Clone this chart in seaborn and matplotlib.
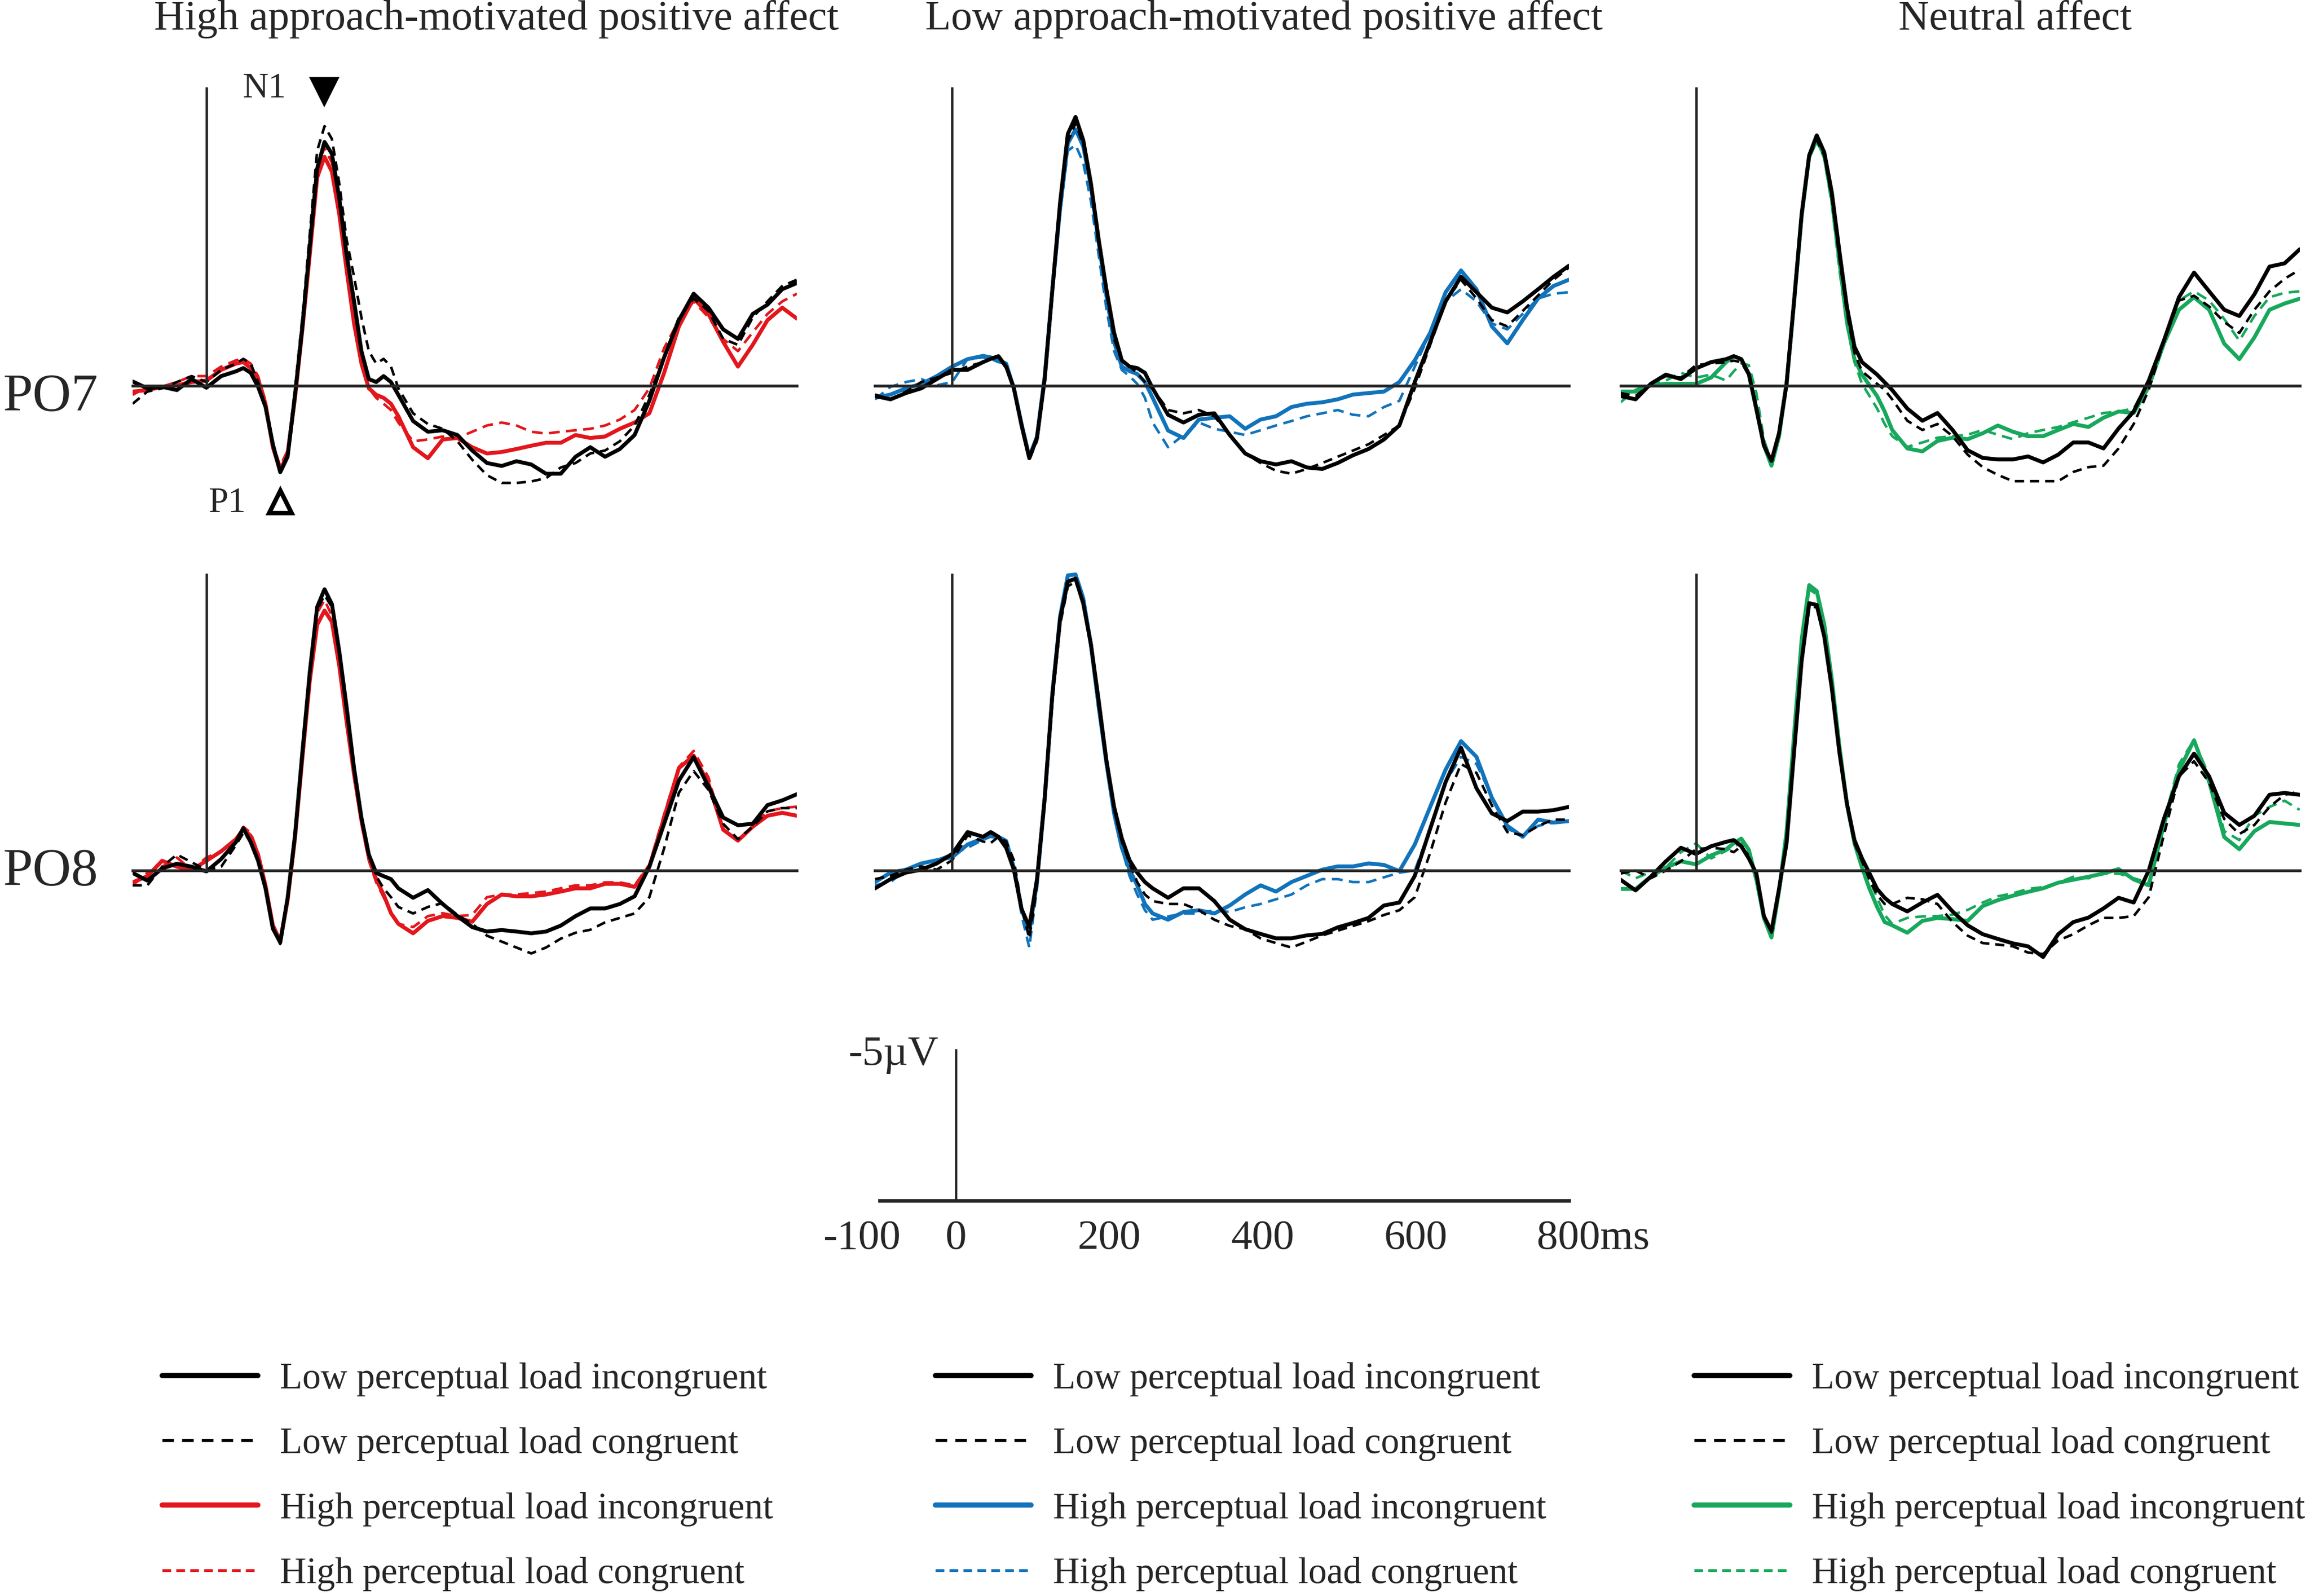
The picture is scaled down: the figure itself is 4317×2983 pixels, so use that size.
import numpy as np
import pandas as pd
import matplotlib
matplotlib.use("Agg")
import matplotlib.pyplot as plt
import seaborn as sns
from matplotlib.lines import Line2D

# sample times (ms), shared by every waveform
times = [-100, -80, -60, -40, -20, 0, 20, 40,
         50, 60, 70, 80, 90, 100, 110, 120, 130, 140, 150, 160, 170,
         180, 190, 200, 210, 220, 230, 240, 250, 260,
         280, 300, 320, 340, 360, 380, 400, 420, 440, 460, 480, 500,
         520, 540, 560, 580, 600, 620, 640, 660, 680, 700, 720, 740,
         760, 780, 800]

# --- High approach-motivated positive affect (uV) ---
ha_po7_li = [-0.15, 0.08, 0.03, 0.14, -0.23, 0.06, -0.33, -0.49,
             -0.6, -0.44, 0.03, 0.7, 1.96, 2.9, 2.38, 0.3, -2.0, -4.7, -7.3, -8.2, -7.8,
             -6.3, -4.4, -2.84, -1.17, -0.23, -0.13, -0.33, -0.13, 0.3,
             1.18, 1.54, 1.49, 1.65, 2.17, 2.59, 2.69, 2.53, 2.64, 2.95, 2.95, 2.38,
             2.06, 2.38, 2.12, 1.65, 0.5, -0.96, -2.21, -3.1, -2.63, -1.9, -1.58, -2.42,
             -2.73, -3.25, -3.46]
ha_po7_lc = [0.6, 0.19, 0.08, -0.13, -0.33, -0.13, -0.54, -0.75,
             -0.91, -0.75, -0.13, 0.7, 2.06, 2.9, 2.27, 0.1, -2.3, -5.1, -7.9, -8.73, -8.3,
             -6.8, -4.9, -3.67, -2.3, -1.17, -0.75, -0.91, -0.65, 0.08,
             0.92, 1.28, 1.44, 1.86, 2.48, 3.0, 3.26, 3.26, 3.21, 3.1, 2.74, 2.59,
             2.27, 2.17, 1.86, 1.33, 0.3, -0.96, -2.3, -2.94, -2.52, -1.58, -1.38, -2.3,
             -2.84, -3.36, -3.57]
ha_po7_hi = [0.19, 0.14, 0.03, -0.02, -0.13, -0.18, -0.54, -0.75,
             -0.8, -0.6, -0.23, 0.6, 2.06, 2.85, 2.27, 0.4, -1.9, -4.4, -7.0, -7.7, -7.2,
             -5.76, -3.88, -2.1, -0.75, 0.08, 0.3, 0.4, 0.6, 1.02,
             2.06, 2.43, 1.8, 1.75, 2.06, 2.27, 2.22, 2.12, 2.01, 1.91, 1.91, 1.65,
             1.75, 1.7, 1.44, 1.23, 0.92, -0.44, -2.0, -2.94, -2.42, -1.48, -0.65, -1.38,
             -2.21, -2.63, -2.26]
ha_po7_hc = [0.3, 0.03, 0.02, -0.13, -0.33, -0.33, -0.65, -0.86,
             -0.91, -0.75, -0.33, 0.5, 1.96, 2.69, 2.17, 0.3, -2.1, -4.7, -7.4, -8.0, -7.5,
             -5.96, -4.09, -2.3, -0.86, 0.08, 0.4, 0.6, 0.81, 1.23,
             1.86, 1.8, 1.7, 1.75, 1.54, 1.33, 1.23, 1.33, 1.54, 1.6, 1.54, 1.49,
             1.44, 1.33, 1.13, 0.81, 0.08, -1.27, -2.21, -2.84, -2.31, -1.58, -1.17, -1.8,
             -2.42, -2.84, -3.1]
ha_po8_li = [0.08, 0.34, -0.07, -0.23, -0.13, 0.03, -0.39, -0.96,
             -1.43, -0.96, -0.33, 0.6, 1.96, 2.43, 0.92, -1.2, -4.0, -6.7, -8.9, -9.5, -9.0,
             -7.4, -5.5, -3.46, -1.79, -0.54, 0.08, 0.19, 0.29, 0.6,
             0.92, 0.66, 1.13, 1.54, 1.91, 2.06, 2.01, 2.06, 2.12, 2.06, 1.86, 1.54,
             1.28, 1.28, 1.13, 0.87, -0.13, -1.58, -3.04, -3.83, -2.84, -1.79, -1.53, -1.58,
             -2.21, -2.37, -2.58]
ha_po8_lc = [0.5, 0.5, -0.13, -0.54, -0.28, -0.02, -0.13, -0.86,
             -1.27, -1.0, -0.4, 0.55, 1.9, 2.48, 1.0, -1.1, -3.9, -6.6, -8.8, -9.3, -8.9,
             -7.3, -5.3, -3.36, -1.69, -0.54, 0.19, 0.6, 0.9, 1.23,
             1.45, 1.23, 1.1, 1.5, 1.8, 2.2, 2.4, 2.6, 2.8, 2.6, 2.3, 2.1,
             2.0, 1.75, 1.6, 1.45, 0.9, -0.75, -2.63, -3.36, -2.73, -1.58, -1.06, -1.48,
             -2.0, -2.11, -2.11]
ha_po8_hi = [0.4, 0.19, -0.33, -0.13, -0.02, -0.33, -0.65, -1.06,
             -1.4, -1.17, -0.54, 0.5, 1.85, 2.38, 1.0, -1.1, -3.8, -6.4, -8.3, -8.78, -8.4,
             -6.9, -5.0, -3.25, -1.69, -0.44, 0.3, 0.81, 1.44, 1.8,
             2.12, 1.7, 1.54, 1.6, 1.73, 1.13, 0.81, 0.87, 0.87, 0.81, 0.71, 0.6,
             0.6, 0.45, 0.45, 0.55, -0.13, -1.79, -3.46, -3.88, -2.94, -1.38, -1.01, -1.48,
             -1.85, -1.95, -1.85]
ha_po8_hc = [0.5, 0.08, -0.13, -0.44, -0.02, -0.44, -0.65, -1.06,
             -1.48, -1.27, -0.6, 0.45, 1.9, 2.48, 1.0, -1.2, -4.0, -6.8, -8.7, -9.14, -8.6,
             -7.0, -5.03, -3.15, -1.58, -0.33, 0.4, 0.9, 1.44, 1.8,
             1.91, 1.54, 1.44, 1.54, 1.5, 0.9, 0.81, 0.81, 0.76, 0.71, 0.6, 0.5,
             0.5, 0.4, 0.4, 0.5, -0.2, -1.9, -3.5, -4.04, -3.15, -1.38, -1.06, -1.48,
             -2.0, -2.11, -2.16]

# --- Low approach-motivated positive affect (uV) ---
la_po7_li = [0.34, 0.45, 0.24, 0.08, -0.23, -0.54, -0.54, -0.8,
             -0.91, -1.0, -0.65, 0.08, 1.33, 2.43, 1.75, -0.23, -3.25, -6.17, -8.47, -9.04, -8.26,
             -6.8, -4.92, -3.25, -1.79, -0.86, -0.65, -0.6, -0.44, 0.08,
             0.97, 1.23, 0.97, 0.92, 1.65, 2.27, 2.53, 2.64, 2.53, 2.74, 2.79, 2.59,
             2.33, 2.12, 1.8, 1.33, -0.13, -1.48, -2.84, -3.67, -3.15, -2.63, -2.47, -2.84,
             -3.25, -3.67, -4.04]
la_po7_lc = [0.29, 0.45, 0.19, -0.13, -0.28, -0.44, -0.65, -0.8,
             -0.91, -0.96, -0.6, 0.13, 1.4, 2.48, 1.85, -0.13, -3.1, -6.0, -8.2, -8.83, -8.1,
             -6.7, -4.82, -3.15, -1.58, -0.86, -0.65, -0.44, -0.13, 0.1,
             0.81, 0.92, 0.81, 1.02, 1.65, 2.27, 2.59, 2.85, 2.95, 2.79, 2.59, 2.38,
             2.17, 1.96, 1.65, 1.33, 0.08, -1.38, -2.84, -3.57, -2.94, -2.21, -2.0, -2.52,
             -3.04, -3.57, -3.98]
la_po7_hi = [0.4, 0.29, 0.08, -0.07, -0.33, -0.65, -0.9, -1.01,
             -0.96, -0.86, -0.75, 0.08, 1.28, 2.38, 1.7, -0.33, -3.25, -5.96, -8.15, -8.62, -8.05,
             -6.7, -4.82, -3.04, -1.48, -0.65, -0.5, -0.4, -0.13, 0.4,
             1.5, 1.75, 1.13, 1.07, 1.02, 1.44, 1.13, 1.02, 0.71, 0.6, 0.55, 0.45,
             0.29, 0.24, 0.19, -0.13, -0.86, -1.79, -3.15, -3.88, -3.25, -2.0, -1.43, -2.21,
             -2.94, -3.36, -3.57]
la_po7_hc = [0.45, 0.03, -0.13, -0.23, -0.02, -0.13, -0.91, -0.96,
             -0.91, -0.8, -0.75, 0.0, 1.2, 2.33, 1.7, -0.3, -3.2, -5.8, -7.9, -8.1, -7.5,
             -6.2, -4.4, -2.6, -1.17, -0.54, -0.33, -0.07, 0.4, 1.23,
             2.06, 1.65, 1.23, 1.44, 1.54, 1.65, 1.49, 1.33, 1.18, 1.02, 0.92, 0.81,
             0.97, 1.02, 0.71, 0.5, -0.65, -1.79, -2.84, -3.25, -2.84, -2.1, -1.9, -2.42,
             -2.94, -3.1, -3.15]
la_po8_li = [0.6, 0.29, 0.07, -0.03, -0.24, -0.56, -1.3, -1.14,
             -1.3, -1.14, -0.77, -0.03, 1.3, 1.9, 0.29, -2.46, -5.95, -8.49, -9.76, -9.86, -9.02,
             -7.64, -5.74, -3.73, -2.15, -1.09, -0.35, 0.07, 0.39, 0.6,
             0.92, 0.6, 0.6, 1.03, 1.66, 1.98, 2.14, 2.29, 2.29, 2.19, 2.14, 1.92,
             1.77, 1.6, 1.18, 1.08, 0.18, -1.41, -2.99, -4.15, -2.78, -1.93, -1.67, -1.99,
             -1.99, -2.04, -2.15]
la_po8_lc = [0.29, 0.18, -0.03, -0.14, -0.03, -0.35, -1.19, -0.98,
             -0.93, -1.14, -0.98, -0.35, 1.2, 2.3, 0.5, -2.3, -5.7, -8.3, -9.6, -9.76, -9.12,
             -7.64, -5.53, -3.63, -2.04, -0.98, -0.24, 0.39, 0.81, 1.03,
             1.13, 1.13, 1.34, 1.66, 1.87, 1.98, 2.29, 2.45, 2.6, 2.4, 2.19, 2.03,
             1.87, 1.71, 1.5, 1.34, 0.9, -0.6, -2.3, -3.6, -3.3, -2.2, -1.3, -1.19,
             -1.51, -1.72, -1.72]
la_po8_hi = [0.39, 0.07, -0.03, -0.24, -0.35, -0.45, -0.88, -1.09,
             -1.25, -1.14, -1.0, -0.1, 1.3, 2.08, 0.4, -2.4, -6.0, -8.6, -9.97, -10.0, -9.2,
             -7.6, -5.53, -3.63, -1.93, -0.77, -0.03, 0.5, 1.13, 1.45,
             1.66, 1.4, 1.34, 1.45, 1.18, 0.81, 0.5, 0.71, 0.39, 0.18, -0.03, -0.14,
             -0.14, -0.24, -0.19, 0.02, -0.88, -2.15, -3.41, -4.37, -3.84, -2.46, -1.51, -1.14,
             -1.72, -1.62, -1.67]
la_po8_hc = [0.5, 0.39, -0.03, -0.24, -0.35, -0.56, -0.77, -1.04,
             -1.14, -1.09, -0.98, -0.1, 1.5, 2.6, 0.6, -2.3, -5.8, -8.4, -9.8, -9.86, -9.12,
             -7.54, -5.42, -3.63, -2.04, -0.77, 0.18, 0.81, 1.34, 1.66,
             1.55, 1.45, 1.45, 1.34, 1.4, 1.24, 1.13, 0.97, 0.81, 0.5, 0.29, 0.29,
             0.39, 0.39, 0.23, 0.07, 0.0, -1.4, -3.0, -3.84, -3.6, -2.5, -1.41, -1.19,
             -1.51, -1.62, -1.67]

# --- Neutral affect (uV) ---
n_po7_li = [0.34, 0.45, -0.07, -0.38, -0.23, -0.59, -0.8, -0.9,
            -1.0, -0.9, -0.4, 0.76, 2.0, 2.52, 1.59, -0.07, -2.87, -5.78, -7.75, -8.42, -7.85,
            -6.5, -4.53, -2.66, -1.32, -0.8, -0.59, -0.38, -0.12, 0.14,
            0.76, 1.17, 0.91, 1.48, 2.16, 2.42, 2.47, 2.47, 2.37, 2.57, 2.31, 1.9,
            1.9, 2.1, 1.43, 0.86, -0.18, -1.52, -2.98, -3.81, -3.18, -2.56, -2.35, -3.08,
            -4.01, -4.12, -4.59]
n_po7_lc = [0.24, 0.34, -0.07, -0.33, -0.28, -0.7, -0.75, -0.8,
            -0.85, -0.8, -0.35, 0.8, 2.0, 2.52, 1.6, -0.07, -2.8, -5.7, -7.7, -8.27, -7.75,
            -6.3, -4.3, -2.46, -1.11, -0.49, -0.28, -0.07, 0.13, 0.45,
            1.17, 1.48, 1.28, 1.69, 2.31, 2.73, 2.99, 3.2, 3.2, 3.2, 3.2, 2.89,
            2.73, 2.68, 2.1, 1.28, 0.13, -1.5, -2.87, -3.03, -2.67, -2.15, -1.78, -2.56,
            -3.18, -3.6, -3.91]
n_po7_hi = [0.19, 0.19, -0.02, -0.07, -0.07, -0.07, -0.28, -0.8,
            -1.0, -0.9, -0.4, 0.8, 2.0, 2.68, 1.7, -0.07, -2.8, -5.7, -7.7, -8.27, -7.75,
            -6.3, -4.2, -2.15, -0.9, -0.38, -0.02, 0.34, 0.86, 1.48,
            2.1, 2.2, 1.85, 1.74, 1.79, 1.59, 1.33, 1.54, 1.69, 1.69, 1.48, 1.28,
            1.38, 1.07, 0.86, 0.91, 0.03, -1.42, -2.56, -2.98, -2.56, -1.42, -0.9, -1.63,
            -2.56, -2.77, -2.93]
n_po7_hc = [0.55, 0.13, -0.07, -0.18, -0.44, -0.28, -0.38, -0.18,
            -0.49, -0.75, -0.7, 0.24, 1.79, 2.57, 1.7, -0.07, -2.8, -5.7, -7.7, -8.22, -7.65,
            -6.09, -3.91, -2.04, -0.8, -0.07, 0.34, 0.76, 1.28, 1.69,
            2.05, 1.9, 1.74, 1.69, 1.64, 1.48, 1.64, 1.79, 1.59, 1.48, 1.38, 1.22,
            1.07, 0.91, 0.86, 0.76, -0.18, -1.52, -2.87, -3.18, -2.87, -2.25, -1.52, -2.35,
            -2.98, -3.13, -3.18]
n_po8_li = [0.31, 0.67, 0.21, -0.31, -0.77, -0.56, -0.82, -0.97,
            -1.03, -0.82, -0.41, 0.1, 1.54, 2.05, 0.62, -0.92, -4.0, -7.08, -9.03, -8.97, -7.9,
            -6.15, -4.0, -2.26, -1.03, -0.41, 0.1, 0.62, 0.92, 1.13,
            1.38, 1.08, 0.82, 1.38, 1.85, 2.15, 2.31, 2.46, 2.56, 2.92, 2.15, 1.74,
            1.59, 1.28, 0.92, 1.08, 0.0, -1.74, -3.18, -3.95, -3.18, -1.95, -1.54, -1.85,
            -2.56, -2.62, -2.56]
n_po8_lc = [0.1, 0.0, 0.26, 0.0, -0.31, -0.72, -0.77, -0.72,
            -0.62, -0.82, -0.5, 0.2, 1.5, 2.1, 0.7, -0.9, -3.9, -7.0, -8.9, -8.9, -7.9,
            -6.1, -4.0, -2.15, -0.92, -0.31, 0.31, 0.82, 1.13, 1.13,
            0.92, 0.97, 1.13, 1.74, 2.2, 2.45, 2.5, 2.56, 2.77, 2.82, 2.36, 2.15,
            1.85, 1.6, 1.6, 1.54, 0.9, -1.2, -3.18, -3.69, -2.97, -1.74, -1.23, -1.54,
            -2.15, -2.56, -2.67]
n_po8_hi = [0.62, 0.62, 0.21, -0.1, -0.31, -0.21, -0.51, -0.72,
            -0.92, -1.08, -0.7, 0.3, 1.6, 2.26, 0.7, -1.3, -4.6, -7.8, -9.64, -9.44, -8.31,
            -6.46, -4.21, -2.26, -0.92, -0.1, 0.62, 1.23, 1.74, 1.85,
            2.1, 1.7, 1.6, 1.64, 1.7, 1.2, 1.0, 0.85, 0.72, 0.6, 0.41, 0.31,
            0.21, 0.1, -0.05, 0.3, 0.5, -1.54, -3.38, -4.4, -3.0, -1.13, -0.72, -1.33,
            -1.64, -1.59, -1.54]
n_po8_hc = [0.0, 0.26, 0.05, -0.1, -0.62, -0.92, -0.41, -0.67,
            -0.82, -0.92, -0.6, 0.4, 1.6, 2.15, 0.6, -1.3, -4.5, -7.7, -9.5, -9.33, -8.21,
            -6.36, -4.1, -2.26, -1.03, -0.31, 0.31, 0.92, 1.5, 1.8,
            1.6, 1.55, 1.54, 1.49, 1.33, 1.08, 0.87, 0.77, 0.62, 0.56, 0.41, 0.21,
            0.26, 0.1, 0.1, 0.26, 0.41, -1.64, -3.59, -4.41, -3.18, -1.33, -1.03, -1.85,
            -2.15, -2.36, -2.05]

conditions = ["Low perceptual load incongruent", "Low perceptual load congruent",
              "High perceptual load incongruent", "High perceptual load congruent"]
column_titles = ["High approach-motivated positive affect",
                 "Low approach-motivated positive affect",
                 "Neutral affect"]
column_colors = ["#E3161C", "#1173BB", "#17A85C"]
electrodes = ["PO7", "PO8"]

waves = {
    (0, 0): [ha_po7_li, ha_po7_lc, ha_po7_hi, ha_po7_hc],
    (0, 1): [la_po7_li, la_po7_lc, la_po7_hi, la_po7_hc],
    (0, 2): [n_po7_li, n_po7_lc, n_po7_hi, n_po7_hc],
    (1, 0): [ha_po8_li, ha_po8_lc, ha_po8_hi, ha_po8_hc],
    (1, 1): [la_po8_li, la_po8_lc, la_po8_hi, la_po8_hc],
    (1, 2): [n_po8_li, n_po8_lc, n_po8_hi, n_po8_hc],
}

sns.set_style("white")
plt.rcParams["font.family"] = ["Liberation Serif", "DejaVu Serif"]
plt.rcParams["axes.linewidth"] = 1.1

fig = plt.figure(figsize=(4317 / 300, 2983 / 300), dpi=300)

# layout measured on a 1568 x 1083.5 grid of the reference
REF_W, REF_H = 1568.0, 1083.5
col_x = [(90, 541), (594, 1065), (1100, 1561)]   # x of -100 ms and 800 ms
row_y = [(60, 262), (390, 591)]                   # y of -10 uV and 0 uV


def frac_rect(x0, x1, y_top, y_bot):
    return [x0 / REF_W, 1 - y_bot / REF_H, (x1 - x0) / REF_W, (y_bot - y_top) / REF_H]


draw_order = [conditions[3], conditions[2], conditions[1], conditions[0]]
dash_map = {conditions[0]: "", conditions[1]: (3.6, 2.3),
            conditions[2]: "", conditions[3]: (4.2, 2.5)}
width_map = {conditions[0]: 1.75, conditions[1]: 1.15,
             conditions[2]: 1.75, conditions[3]: 1.15}

axes = {}
for (r, c), series in waves.items():
    top, zero = row_y[r]
    ppu = (zero - top) / 10.0
    ax = fig.add_axes(frac_rect(col_x[c][0], col_x[c][1], top - 0.5 * ppu, zero + 4.5 * ppu))
    ax.patch.set_alpha(0)

    df = pd.DataFrame({
        "time": times * len(series),
        "uv": [v for s in series for v in s],
        "cond": np.repeat(conditions, len(times)),
    })
    pal = {conditions[0]: "black", conditions[1]: "black",
           conditions[2]: column_colors[c], conditions[3]: column_colors[c]}
    sns.lineplot(data=df, x="time", y="uv", hue="cond", style="cond", size="cond",
                 hue_order=draw_order, style_order=draw_order, size_order=draw_order,
                 palette=pal, dashes=dash_map, sizes=width_map,
                 estimator=None, errorbar=None, sort=False, legend=False, ax=ax)

    ax.set_xlim(-100, 800)
    ax.set_ylim(4.5, -10.5)
    ax.set_xlabel("")
    ax.set_ylabel("")
    for s in ["top", "right"]:
        ax.spines[s].set_visible(False)
    ax.spines["left"].set_position(("data", 0))
    ax.spines["left"].set_bounds(-10, 0)
    ax.spines["bottom"].set_position(("data", 0))
    ax.spines["bottom"].set_bounds(-100, 800)
    ax.spines["bottom"].set_linewidth(1.3)
    ax.set_xticks([0, 200, 400, 600, 800])
    ax.set_xticklabels([])
    ax.set_yticks([-10, -5])
    ax.set_yticklabels([])
    ax.tick_params(direction="out", length=4.5, width=1.1, color="black")
    axes[(r, c)] = ax

# N1 / P1 markers
ax0 = axes[(0, 0)]
ax0.plot(160, -9.9, marker="v", ms=12, color="black", clip_on=False)
ax0.text(78, -10.0, "N1", fontsize=16, ha="center", va="center")
ax0.plot(100, 3.9, marker="^", ms=10, mfc="white", mec="black", mew=2.0, clip_on=False)
ax0.text(28, 3.95, "P1", fontsize=16, ha="center", va="center")

# column titles and electrode labels
title_x = [337, 858, 1368]
for c, t in enumerate(column_titles):
    fig.text(title_x[c] / REF_W, 1 - 13 / REF_H, t, fontsize=19, ha="center", va="center")
for r, (name, yc) in enumerate(zip(electrodes, [270, 592])):
    fig.text(2 / REF_W, 1 - yc / REF_H, name, fontsize=24, ha="left", va="center")

# scale bar axes
sc_ppu = (815 - 713) / 5.0
sax = fig.add_axes(frac_rect(597, 1065, 713 - 0.6 * sc_ppu, 815 + 0.8 * sc_ppu))
sax.patch.set_alpha(0)
sax.set_xlim(-100, 800)
sax.set_ylim(0.8, -5.6)
for s in ["top", "right"]:
    sax.spines[s].set_visible(False)
sax.spines["left"].set_position(("data", 0))
sax.spines["left"].set_bounds(-5, 0)
sax.spines["left"].set_linewidth(1.0)
sax.spines["bottom"].set_position(("data", 0))
sax.spines["bottom"].set_bounds(-100, 800)
sax.spines["bottom"].set_linewidth(1.6)
sax.set_xticks([0, 200, 400, 600, 800])
sax.set_xticklabels(["0", "200", "400", "600", ""])
sax.set_xticks([-100], minor=True)
sax.set_xticklabels([""], minor=True)
sax.set_yticks([-5])
sax.set_yticklabels(["-5\u00b5V"])
sax.tick_params(axis="x", which="major", direction="out", length=5.5, width=1.1,
                labelsize=19, pad=3)
sax.tick_params(axis="x", which="minor", direction="inout", length=9, width=1.1)
sax.tick_params(axis="y", direction="out", length=4, width=1.1, labelsize=19, pad=4)
sax.annotate("-100", xy=(-100, 0), xycoords="data", xytext=(-8, -8.5),
             textcoords="offset points", ha="center", va="top", fontsize=19)
sax.annotate("800ms", xy=(800, 0), xycoords="data", xytext=(-14.5, -8.5),
             textcoords="offset points", ha="left", va="top", fontsize=19)

# legends
legend_x = [110, 635, 1150]
for c in range(3):
    handles = [
        Line2D([0], [0], color="black", lw=2.3),
        Line2D([0], [0], color="black", lw=1.3, dashes=(4, 2.8)),
        Line2D([0], [0], color=column_colors[c], lw=2.3),
        Line2D([0], [0], color=column_colors[c], lw=1.3, dashes=(3, 1.8)),
    ]
    fig.legend(handles, conditions, loc="center left",
               bbox_to_anchor=(legend_x[c] / REF_W, 1 - 1002.5 / REF_H),
               frameon=False, fontsize=16.5, handlelength=2.6, handletextpad=0.6,
               labelspacing=0.83, borderpad=0, borderaxespad=0)

fig.savefig("out.png", dpi=300)
